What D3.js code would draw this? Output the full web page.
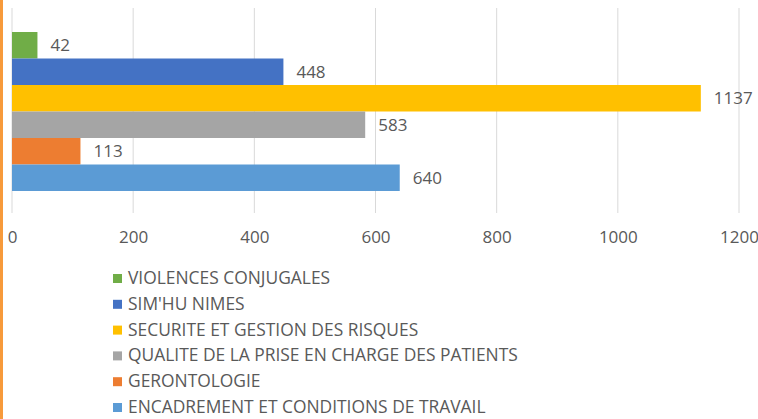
<!DOCTYPE html>
<html>
<head>
<meta charset="utf-8">
<script src="https://cdn.jsdelivr.net/npm/d3@7"></script>
<style>
  body { margin: 0; background: #fff; }
  svg { display: block; font-family: "Open Sans", sans-serif; }
</style>
</head>
<body>
<svg id="chart" width="758" height="419"></svg>
<script>
// data, top to bottom as in the chart
const categories = [
    "VIOLENCES CONJUGALES",
    "SIM'HU NIMES",
    "SECURITE ET GESTION DES RISQUES",
    "QUALITE DE LA PRISE EN CHARGE DES PATIENTS",
    "GERONTOLOGIE",
    "ENCADREMENT ET CONDITIONS DE TRAVAIL"
];
const values = [42, 448, 1137, 583, 113, 640];
const colors = ["#70AD47", "#4472C4", "#FFC000", "#A5A5A5", "#ED7D31", "#5B9BD5"];
const xTicks = [0, 200, 400, 600, 800, 1000, 1200];

const svg = d3.select("#chart");
const textColor = "#595959";

// orange edge on the left
svg.append("rect")
    .attr("x", 0).attr("y", 0)
    .attr("width", 3).attr("height", 419)
    .attr("fill", "#F79A3B");

const x = d3.scaleLinear().domain([0, 1200]).range([12, 739]);
const y = d3.scaleBand().domain(categories).range([32, 191]).padding(0);

const plotTop = 8, plotBottom = 213;

// grid lines
svg.append("g")
    .selectAll("line")
    .data(xTicks)
    .join("line")
    .attr("x1", d => x(d)).attr("x2", d => x(d))
    .attr("y1", plotTop).attr("y2", plotBottom)
    .attr("stroke", "#D9D9D9")
    .attr("stroke-width", 1);

// axis labels
const xAxis = d3.axisBottom(x).tickValues(xTicks).tickFormat(d3.format("d")).tickSize(0).tickPadding(0);
const ax = svg.append("g")
    .attr("transform", `translate(0, 231)`)
    .call(xAxis);
ax.select(".domain").remove();
ax.selectAll("text")
    .attr("fill", textColor)
    .style("font-size", "17px")
    .style("font-family", "'Open Sans', sans-serif");

// bars
svg.append("g")
    .selectAll("rect")
    .data(values)
    .join("rect")
    .attr("x", x(0))
    .attr("y", (d, i) => y(categories[i]))
    .attr("width", d => x(d) - x(0))
    .attr("height", y.bandwidth())
    .attr("fill", (d, i) => colors[i]);

// value labels
svg.append("g")
    .selectAll("text")
    .data(values)
    .join("text")
    .attr("x", d => x(d) + 13)
    .attr("y", (d, i) => y(categories[i]) + y.bandwidth() / 2)
    .attr("dy", "0.35em")
    .attr("fill", textColor)
    .style("font-size", "17px")
    .text(d => d);

// legend
const legend = svg.append("g").attr("transform", "translate(113, 278)");
const rows = legend.selectAll("g")
    .data(categories)
    .join("g")
    .attr("transform", (d, i) => `translate(0, ${i * 25.8})`);
rows.append("rect")
    .attr("x", 0).attr("y", -4)
    .attr("width", 9).attr("height", 9)
    .attr("fill", (d, i) => colors[i]);
rows.append("text")
    .attr("x", 15)
    .attr("dy", "0.35em")
    .attr("fill", textColor)
    .style("font-size", "17.4px")
    .text(d => d);
</script>
</body>
</html>
